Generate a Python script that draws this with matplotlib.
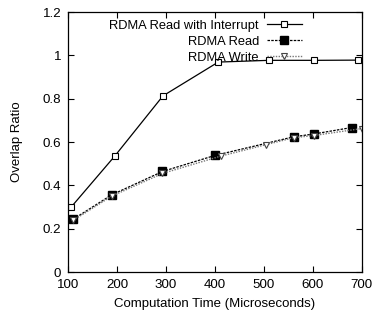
import numpy as np
import matplotlib
matplotlib.use("Agg")
import matplotlib.pyplot as plt

# Data
interrupt_x = [106, 195, 294, 407, 510, 603, 692]
interrupt_y = [0.299, 0.534, 0.813, 0.969, 0.977, 0.977, 0.978]

read_x = [110, 189, 293, 400, 561, 602, 680]
read_y = [0.243, 0.356, 0.464, 0.538, 0.624, 0.637, 0.667]

write_x = [110, 189, 293, 412, 505, 561, 602, 700]
write_y = [0.238, 0.350, 0.455, 0.535, 0.588, 0.620, 0.630, 0.662]

x_ticks = [100, 200, 300, 400, 500, 600, 700]
y_ticks = [0, 0.2, 0.4, 0.6, 0.8, 1, 1.2]
y_tick_labels = ["0", "0.2", "0.4", "0.6", "0.8", "1", "1.2"]

plt.rcParams["font.family"] = ["Liberation Sans", "DejaVu Sans"]
plt.rcParams["font.size"] = 9

fig = plt.figure(figsize=(3.72, 3.25), dpi=100)
ax = fig.add_axes([0.183, 0.163, 0.789, 0.800])

ax.plot(interrupt_x, interrupt_y, "-", color="black", linewidth=0.9,
        marker="s", markersize=5, markerfacecolor="white",
        markeredgecolor="black", markeredgewidth=0.8,
        label="RDMA Read with Interrupt")
ax.plot(read_x, read_y, linestyle=(0, (2, 1)), color="black", linewidth=0.9,
        marker="s", markersize=5.8, markerfacecolor="black",
        markeredgecolor="black", label="RDMA Read")
ax.plot(write_x, write_y, linestyle=(0, (1, 1)), color="#777777", linewidth=1.0,
        marker="v", markersize=5, markerfacecolor="white",
        markeredgecolor="#444444", markeredgewidth=0.8,
        label="RDMA Write")

ax.set_xlim(100, 700)
ax.set_ylim(0, 1.2)
ax.set_xticks(x_ticks)
ax.set_yticks(y_ticks)
ax.set_yticklabels(y_tick_labels)
ax.tick_params(direction="in", top=True, right=True, length=4, width=0.8,
               labelsize=9.6)
ax.tick_params(axis="x", pad=5)
ax.tick_params(axis="y", pad=5)
for s in ax.spines.values():
    s.set_linewidth(0.9)

ax.set_xlabel("Computation Time (Microseconds)", fontsize=9.5, labelpad=5)
ax.set_ylabel("Overlap Ratio", fontsize=9.5, labelpad=14)

leg = ax.legend(loc="upper right", bbox_to_anchor=(0.822, 1.0), frameon=False,
                markerfirst=False, fontsize=9.3, handlelength=2.7,
                labelspacing=0.3, handletextpad=0.6, borderaxespad=0.2)

fig.savefig("out.png", dpi=100)
